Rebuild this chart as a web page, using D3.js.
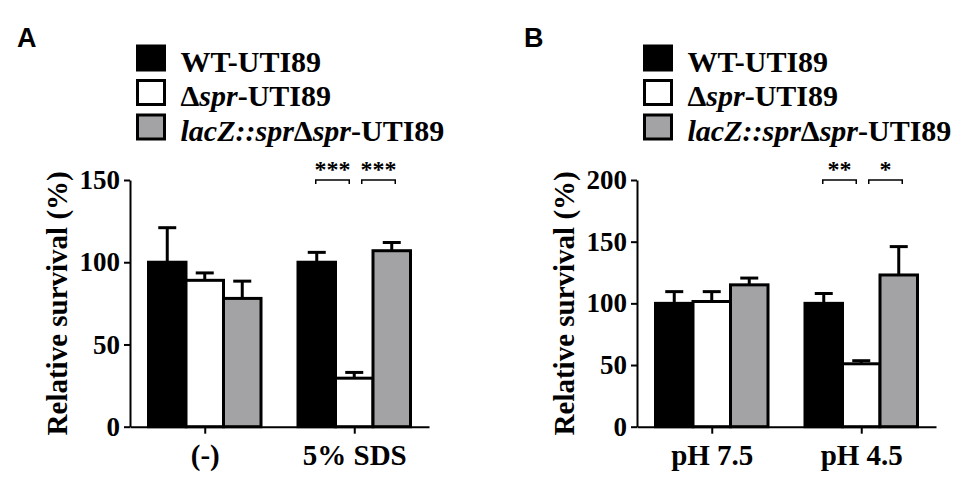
<!DOCTYPE html>
<html>
<head>
<meta charset="utf-8">
<script src="https://cdn.jsdelivr.net/npm/d3@7"></script>
<style>
  body { margin: 0; background: #fff; }
  text { font-family: "Liberation Serif", "Times New Roman", serif; font-weight: bold; }
</style>
</head>
<body>
<div id="chart"></div>
<script>
// strains (legend order, also bar order inside each group)
var strains = ["WT", "spr", "lacZ"];

// panel A: SDS challenge
var groupsA = ["(-)", "5% SDS"];
var meansA = [[100, 89, 78], [100, 29.5, 107]];
var errA = [[21, 4.5, 10.5], [6, 3.5, 5]];
var ticksA = [0, 50, 100, 150];
var sigA = [{a: 0, b: 1, label: "***"}, {a: 1, b: 2, label: "***"}];

// panel B: acid challenge
var groupsB = ["pH 7.5", "pH 4.5"];
var meansB = [[100, 101.5, 115], [100, 51, 123]];
var errB = [[9.5, 8, 5.5], [8, 2.5, 23]];
var ticksB = [0, 50, 100, 150, 200];
var sigB = [{a: 0, b: 1, label: "**"}, {a: 1, b: 2, label: "*"}];

var fills = {WT: "#000", spr: "#fff", lacZ: "#a3a3a6"};

var width = 975, height = 487;

var svg = d3.select("#chart").append("svg")
    .attr("width", width)
    .attr("height", height);

function drawPanel(letter, x0, groups, means, errs, ticks, sig) {
  var plotW = 299, top = 180, bottom = 426.7;

  var g = svg.append("g");

  var x = d3.scalePoint()
      .domain(groups)
      .range([x0, x0 + plotW])
      .padding(0.5);

  var sub = d3.scaleBand()
      .domain(d3.range(strains.length))
      .range([-56.25, 56.25]);

  var y = d3.scaleLinear()
      .domain([0, d3.max(ticks)])
      .range([bottom, top]);

  // panel letter
  g.append("text")
      .attr("x", x0 - 113)
      .attr("y", 47)
      .style("font-family", "'Liberation Sans', Arial, sans-serif")
      .style("font-size", "27px")
      .text(letter);

  // legend
  var legend = g.append("g")
      .attr("transform", "translate(" + (x0 + 7.5) + ",46)");
  var rows = legend.selectAll("g")
      .data(strains)
      .enter().append("g")
      .attr("transform", function(d, i) { return "translate(0," + (i * 34.5) + ")"; });
  rows.append("rect")
      .attr("width", 27)
      .attr("height", 24)
      .attr("fill", function(d) { return fills[d]; })
      .attr("stroke", "#000")
      .attr("stroke-width", 3);
  var lt = rows.append("text")
      .attr("x", 43)
      .attr("y", 25.5)
      .style("font-size", "30px");
  lt.each(function(d) {
    var t = d3.select(this);
    if (d === "WT") {
      t.append("tspan").text("WT-UTI89");
    } else if (d === "spr") {
      t.append("tspan").text("\u0394");
      t.append("tspan").style("font-style", "italic").text("spr");
      t.append("tspan").text("-UTI89");
    } else {
      t.append("tspan").style("font-style", "italic").text("lacZ::spr");
      t.append("tspan").text("\u0394");
      t.append("tspan").style("font-style", "italic").text("spr");
      t.append("tspan").text("-UTI89");
    }
  });

  // bars
  var bars = [];
  groups.forEach(function(grp, gi) {
    strains.forEach(function(s, si) {
      bars.push({group: grp, si: si, strain: s, v: means[gi][si], e: errs[gi][si]});
    });
  });

  var cx = function(d) { return x(d.group) + sub(d.si) + sub.bandwidth() / 2; };

  // error bars (upper only)
  g.selectAll(".err")
      .data(bars)
      .enter().append("line")
      .attr("x1", cx).attr("x2", cx)
      .attr("y1", function(d) { return y(d.v); })
      .attr("y2", function(d) { return y(d.v + d.e); })
      .attr("stroke", "#000")
      .attr("stroke-width", 3);
  g.selectAll(".cap")
      .data(bars)
      .enter().append("line")
      .attr("x1", function(d) { return cx(d) - 9; })
      .attr("x2", function(d) { return cx(d) + 9; })
      .attr("y1", function(d) { return y(d.v + d.e); })
      .attr("y2", function(d) { return y(d.v + d.e); })
      .attr("stroke", "#000")
      .attr("stroke-width", 3);

  g.selectAll(".bar")
      .data(bars)
      .enter().append("rect")
      .attr("x", function(d) { return x(d.group) + sub(d.si); })
      .attr("y", function(d) { return y(d.v); })
      .attr("width", sub.bandwidth())
      .attr("height", function(d) { return y(0) - y(d.v); })
      .attr("fill", function(d) { return fills[d.strain]; })
      .attr("stroke", "#000")
      .attr("stroke-width", 3);

  // axes
  var yAxis = g.append("g")
      .attr("transform", "translate(" + x0 + ",0)")
      .call(d3.axisLeft(y).tickValues(ticks).tickSize(6).tickSizeOuter(0).tickPadding(4));
  var xAxis = g.append("g")
      .attr("transform", "translate(0," + y(0) + ")")
      .call(d3.axisBottom(x).tickSize(7).tickSizeOuter(0).tickPadding(11));
  [yAxis, xAxis].forEach(function(ax) {
    ax.select(".domain").attr("stroke-width", 2);
    ax.selectAll(".tick line").attr("stroke-width", 2);
    ax.selectAll("text").attr("fill", "#000")
        .style("font-family", "'Liberation Serif', 'Times New Roman', serif");
  });
  yAxis.selectAll("text").style("font-size", "27px");
  xAxis.selectAll("text").style("font-size", "29px");

  // axis title
  g.append("text")
      .attr("transform", "translate(" + (x0 - 63) + "," + ((top + bottom) / 2) + ") rotate(-90)")
      .attr("text-anchor", "middle")
      .style("font-size", "29px")
      .text("Relative survival (%)");

  // significance brackets over the second group
  var last = groups[groups.length - 1];
  var bc = function(i) { return x(last) + sub(i) + sub.bandwidth() / 2; };
  sig.forEach(function(s) {
    var xl = bc(s.a) + (s.a === 0 ? -1 : 7.5);
    var xr = bc(s.b) + (s.b === 2 ? 3.5 : -5);
    g.append("path")
        .attr("d", "M" + xl + "," + (top + 4) + "V" + top + "H" + xr + "V" + (top + 4))
        .attr("fill", "none")
        .attr("stroke", "#000")
        .attr("stroke-width", 1.5);
    g.append("text")
        .attr("x", (xl + xr) / 2)
        .attr("y", top - 3)
        .attr("text-anchor", "middle")
        .style("font-size", "24px")
        .text(s.label);
  });
}

drawPanel("A", 130, groupsA, meansA, errA, ticksA, sigA);
drawPanel("B", 637, groupsB, meansB, errB, ticksB, sigB);
</script>
</body>
</html>
